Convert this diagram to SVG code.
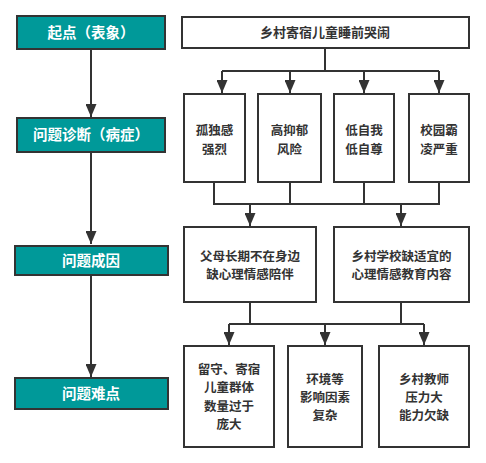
<svg xmlns="http://www.w3.org/2000/svg" width="486" height="463" viewBox="0 0 486 463">
<style>
.hd rect{fill:#009999;stroke:#333;stroke-width:2}
.hd text{fill:#fff;font-size:14.5px;font-weight:bold}
.bx rect{fill:#fff;stroke:#333;stroke-width:2}
.bx text{fill:#333;font-size:12.5px;font-weight:bold}
text{font-family:"Noto Sans CJK SC","Noto Sans",sans-serif;text-anchor:middle}
.cn{fill:none;stroke:#333;stroke-width:2}
</style>
<defs>
<marker id="ah" markerUnits="userSpaceOnUse" markerWidth="13" markerHeight="11" refX="13" refY="5.5" orient="auto">
<path d="M0,0 L13,5.5 L0,11 z" fill="#333"/>
</marker>
</defs>
<rect width="486" height="463" fill="#fff"/>
<g id="connectors">
<path class="cn" d="M91,49 V117" marker-end="url(#ah)"/>
<path class="cn" d="M91,153 V244" marker-end="url(#ah)"/>
<path class="cn" d="M91,276 V377" marker-end="url(#ah)"/>
<path class="cn" d="M325,49 V71"/>
<path class="cn" d="M222,71 H439"/>
<path class="cn" d="M222,71 V93" marker-end="url(#ah)"/>
<path class="cn" d="M290,71 V93" marker-end="url(#ah)"/>
<path class="cn" d="M364,71 V93" marker-end="url(#ah)"/>
<path class="cn" d="M439,71 V93" marker-end="url(#ah)"/>
<path class="cn" d="M214,183 V204 H439 V183"/>
<path class="cn" d="M290,183 V204"/>
<path class="cn" d="M364,183 V204"/>
<path class="cn" d="M250,204 V226" marker-end="url(#ah)"/>
<path class="cn" d="M401,204 V226" marker-end="url(#ah)"/>
<path class="cn" d="M250,303 V324"/>
<path class="cn" d="M401,303 V324"/>
<path class="cn" d="M229,324 H424"/>
<path class="cn" d="M229,324 V345" marker-end="url(#ah)"/>
<path class="cn" d="M325,324 V345" marker-end="url(#ah)"/>
<path class="cn" d="M424,324 V345" marker-end="url(#ah)"/>
</g>
<g id="h1" class="hd"><rect x="17" y="16" width="148" height="33"/><text x="91" y="38">起点（表象）</text></g>
<g id="h2" class="hd"><rect x="17" y="118" width="148" height="34"/><text x="91" y="140">问题诊断（病症）</text></g>
<g id="h3" class="hd"><rect x="15" y="246" width="153" height="29"/><text x="91" y="266">问题成因</text></g>
<g id="h4" class="hd"><rect x="15" y="378" width="153" height="31"/><text x="91" y="399">问题难点</text></g>
<g id="top" class="bx"><rect x="182" y="17" width="287" height="31"/><text x="325" y="37" style="font-size:13px">乡村寄宿儿童睡前哭闹</text></g>
<g id="d1" class="bx"><rect x="184" y="94" width="61" height="88"/><text x="214.5" y="135.3">孤独感</text><text x="214.5" y="153.5">强烈</text></g>
<g id="d2" class="bx"><rect x="258" y="94" width="63" height="88"/><text x="289.5" y="135.3">高抑郁</text><text x="289.5" y="153.5">风险</text></g>
<g id="d3" class="bx"><rect x="334" y="94" width="60" height="88"/><text x="364" y="135.3">低自我</text><text x="364" y="153.5">低自尊</text></g>
<g id="d4" class="bx"><rect x="409" y="94" width="60" height="88"/><text x="439" y="135.3">校园霸</text><text x="439" y="153.5">凌严重</text></g>
<g id="c1" class="bx"><rect x="184" y="227" width="132" height="75"/><text x="250" y="260.8">父母长期不在身边</text><text x="250" y="279">缺心理情感陪伴</text></g>
<g id="c2" class="bx"><rect x="334" y="227" width="135" height="75"/><text x="401.5" y="260.8">乡村学校缺适宜的</text><text x="401.5" y="279">心理情感教育内容</text></g>
<g id="p1" class="bx"><rect x="184" y="346" width="90" height="101"/><text x="229" y="374.1">留守、寄宿</text><text x="229" y="392.3">儿童群体</text><text x="229" y="410.5">数量过于</text><text x="229" y="428.7">庞大</text></g>
<g id="p2" class="bx"><rect x="288" y="346" width="74" height="101"/><text x="325" y="383.7">环境等</text><text x="325" y="401.9">影响因素</text><text x="325" y="420.1">复杂</text></g>
<g id="p3" class="bx"><rect x="379" y="346" width="90" height="101"/><text x="424" y="383.7">乡村教师</text><text x="424" y="401.9">压力大</text><text x="424" y="420.1">能力欠缺</text></g>
</svg>
